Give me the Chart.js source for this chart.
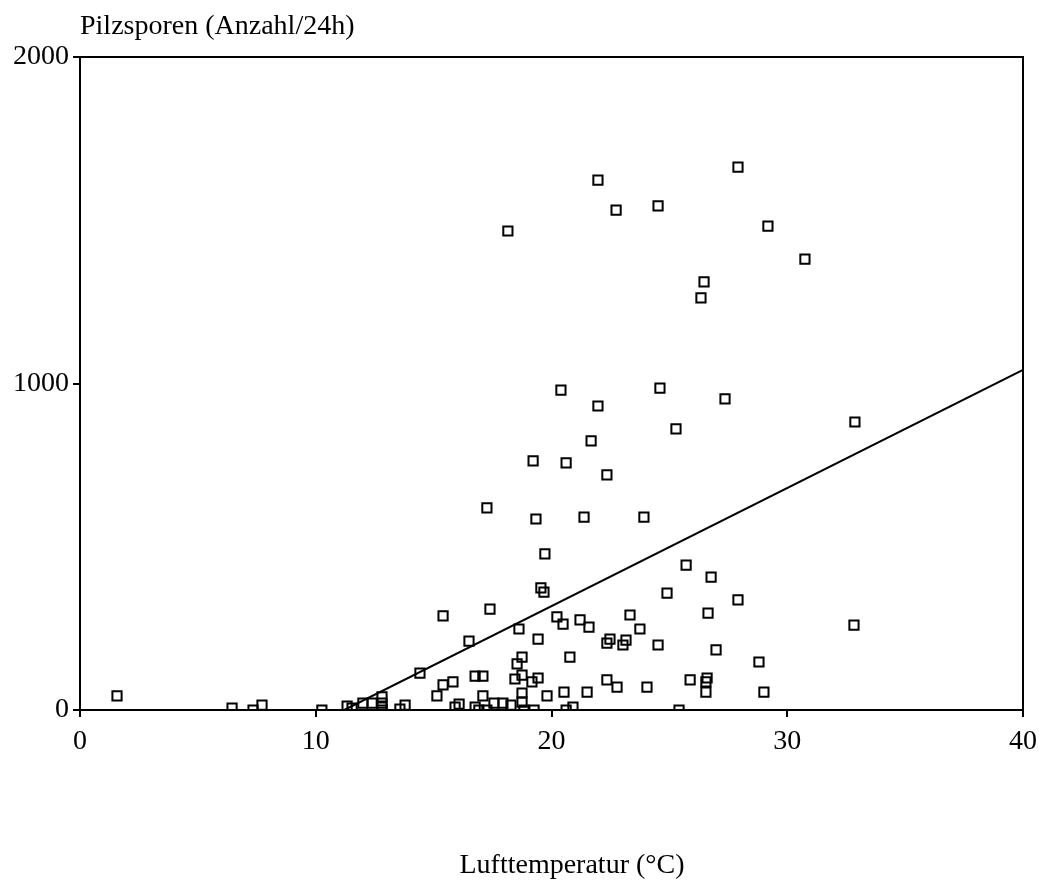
<!DOCTYPE html>
<html>
<head>
<meta charset="utf-8">
<script src="https://cdn.jsdelivr.net/npm/chart.js@4/dist/chart.umd.min.js"></script>
<style>
html,body{margin:0;padding:0;background:#fff;}
#wrap{position:relative;width:1045px;height:886px;}
</style>
</head>
<body>
<div id="wrap"><canvas id="c" width="1045" height="886"></canvas></div>
<script>
const temperature = [1.57,6.45,7.34,7.72,10.26,11.33,11.54,12.0,12.39,12.81,12.81,12.81,12.81,13.57,13.79,14.42,15.14,15.40,15.40,15.82,15.91,16.08,16.50,16.76,17.09,16.76,16.92,17.09,17.26,17.26,17.39,17.56,17.94,18.15,18.28,18.45,18.54,18.62,18.75,18.75,18.75,18.75,18.83,19.17,19.22,19.26,19.34,19.43,19.43,19.55,19.68,19.72,19.81,20.23,20.40,20.53,20.49,20.62,20.62,20.78,20.91,21.21,21.38,21.51,21.59,21.68,21.97,21.97,22.35,22.35,22.35,22.48,22.74,22.78,23.03,23.16,23.33,23.75,23.92,24.05,24.52,24.52,24.60,24.90,25.28,25.41,25.71,25.88,26.34,26.47,26.60,26.55,26.55,26.64,26.77,26.98,27.36,27.91,27.91,28.80,29.01,29.18,30.75,32.87,32.83];
const spores = [43,6,0,15,0,12,6,21,21,40,21,9,0,3,15,113,43,288,77,86,9,18,211,104,104,9,0,43,0,619,309,21,21,1467,15,95,141,248,162,107,52,24,0,86,763,0,585,217,98,374,361,478,43,285,980,55,263,0,757,162,9,276,591,55,254,824,1623,931,205,92,720,217,1531,70,199,214,291,248,591,70,199,1544,986,358,861,0,444,92,1262,1311,98,86,55,297,407,184,953,337,1663,147,55,1482,1381,882,260];
const trendX = [11.21, 40];
const trendY = [0, 1041.6];
const xTicks = [0,10,20,30,40];
const yTicks = [0,1000,2000];
const xTitle = 'Lufttemperatur (°C)';
const yTitle = 'Pilzsporen (Anzahl/24h)';

const FONT = '"Liberation Serif", "Times New Roman", serif';
const FS = 28;

const points = temperature.map((t,i)=>({x:t,y:spores[i]}));
const trend = trendX.map((t,i)=>({x:t,y:trendY[i]}));

const framePlugin = {
  id:'frame',
  afterDraw(chart){
    const {ctx, chartArea:a} = chart;
    ctx.save();
    ctx.strokeStyle='#000';
    ctx.lineWidth=2;
    ctx.beginPath();
    ctx.moveTo(a.left, a.top);
    ctx.lineTo(a.right, a.top);
    ctx.lineTo(a.right, a.bottom);
    ctx.stroke();
    ctx.fillStyle='#000';
    ctx.font = FS + 'px ' + FONT;
    ctx.textBaseline='middle';
    ctx.textAlign='left';
    ctx.fillText(yTitle, a.left, 27);
    ctx.textAlign='center';
    ctx.fillText(xTitle, 572, 866);
    ctx.restore();
  }
};

new Chart(document.getElementById('c'), {
  type:'scatter',
  data:{datasets:[
    {data:points, pointStyle:'rect', pointRadius:6.5, pointHoverRadius:6.5, borderColor:'#000', backgroundColor:'rgba(0,0,0,0)', borderWidth:2},
    {data:trend, showLine:true, pointRadius:0, borderColor:'#000', borderWidth:2, fill:false}
  ]},
  options:{
    responsive:false, animation:false,
    layout:{padding:{left:0, top:57, right:22, bottom:0}},
    plugins:{legend:{display:false}, tooltip:{enabled:false}},
    scales:{
      x:{type:'linear', min:0, max:40,
        afterBuildTicks(s){ s.ticks = xTicks.map(v=>({value:v})); },
        afterFit(s){ s.height = 176; },
        border:{display:true, color:'#000', width:2},
        grid:{drawOnChartArea:false, color:'#000', lineWidth:2, tickLength:7},
        ticks:{color:'#000', font:{family:FONT, size:FS}, padding:8, maxRotation:0, callback:v=>String(v)}
      },
      y:{type:'linear', min:0, max:2000,
        afterBuildTicks(s){ s.ticks = yTicks.map(v=>({value:v})); },
        afterFit(s){ s.width = 80; },
        border:{display:true, color:'#000', width:2},
        grid:{drawOnChartArea:false, color:'#000', lineWidth:2, tickLength:7},
        ticks:{color:'#000', font:{family:FONT, size:FS}, padding:4, callback:v=>String(v)}
      }
    }
  },
  plugins:[framePlugin]
});
</script>
</body>
</html>
